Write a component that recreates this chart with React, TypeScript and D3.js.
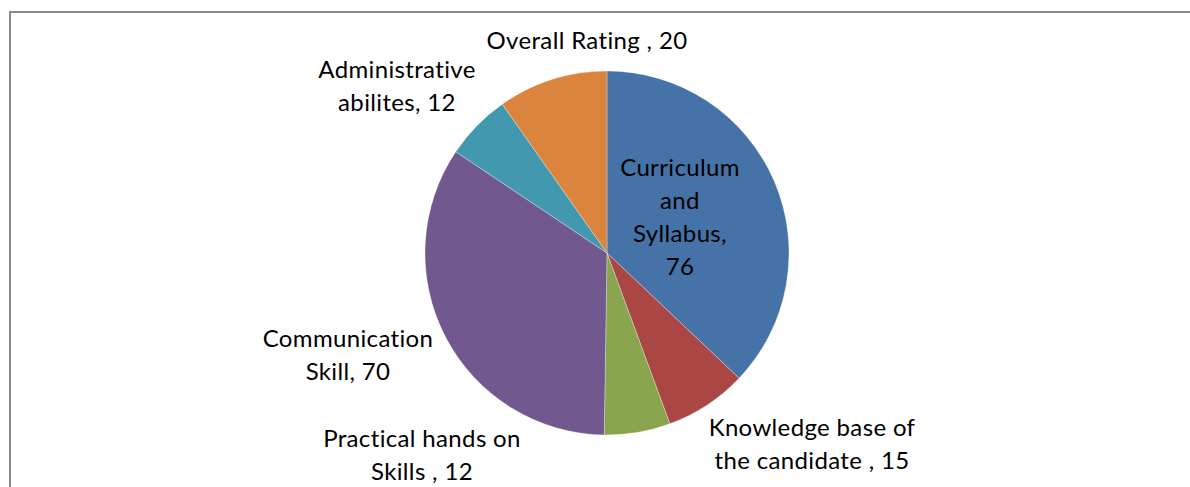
import React from "react";
import * as d3 from "d3";

const categories = [
  "Curriculum and Syllabus",
  "Knowledge base of the candidate ",
  "Practical hands on Skills ",
  "Communication Skill",
  "Administrative abilites",
  "Overall Rating ",
];
const values = [76, 15, 12, 70, 12, 20];
const colors = ["#4572A7", "#AA4643", "#89A54E", "#71588F", "#4198AF", "#DB843D"];
const labelLines = [
  ["Curriculum", "and", "Syllabus,", "76"],
  ["Knowledge base of", "the candidate , 15"],
  ["Practical hands on", "Skills , 12"],
  ["Communication", "Skill, 70"],
  ["Administrative", "abilites, 12"],
  ["Overall Rating , 20"],
];
// label anchor (center x, first baseline y)
const labelPos: [number, number][] = [
  [680, 176],
  [812, 436],
  [422, 447],
  [348, 347],
  [397, 78],
  [587, 49],
];

const W = 1190;
const H = 487;
const cx = 607;
const cy = 253;
const R = 182;
const LH = 33;

export default function App() {
  const data = categories.map((c, i) => ({ c, v: values[i], i }));
  const pie = d3.pie<any>().value((d) => d.v).sort(null);
  const arcs = pie(data);
  const arc = d3.arc<any>().innerRadius(0).outerRadius(R);
  return (
    <svg
      width={W}
      height={H}
      style={{ position: "absolute", left: 0, top: 0, display: "block", background: "#fff" }}
      fontFamily="Lato, 'Open Sans', sans-serif"
    >
      <rect x={0} y={0} width={W} height={H} fill="#fff" />
      <line x1={10} y1={12} x2={W} y2={12} stroke="#898989" strokeWidth={2} />
      <line x1={10} y1={11} x2={10} y2={H} stroke="#898989" strokeWidth={2} />
      <g transform={`translate(${cx},${cy})`}>
        {arcs.map((a, i) => (
          <path key={i} d={arc(a) as string} fill={colors[i]} stroke="#ffffff" strokeOpacity={0.5} strokeWidth={0.6} />
        ))}
      </g>
      {labelLines.map((lines, i) => (
        <text key={i} textAnchor="middle" fontSize={24} letterSpacing={0.35} fill="#000">
          {lines.map((l, j) => (
            <tspan key={j} x={labelPos[i][0]} y={labelPos[i][1] + j * LH}>
              {l}
            </tspan>
          ))}
        </text>
      ))}
    </svg>
  );
}
